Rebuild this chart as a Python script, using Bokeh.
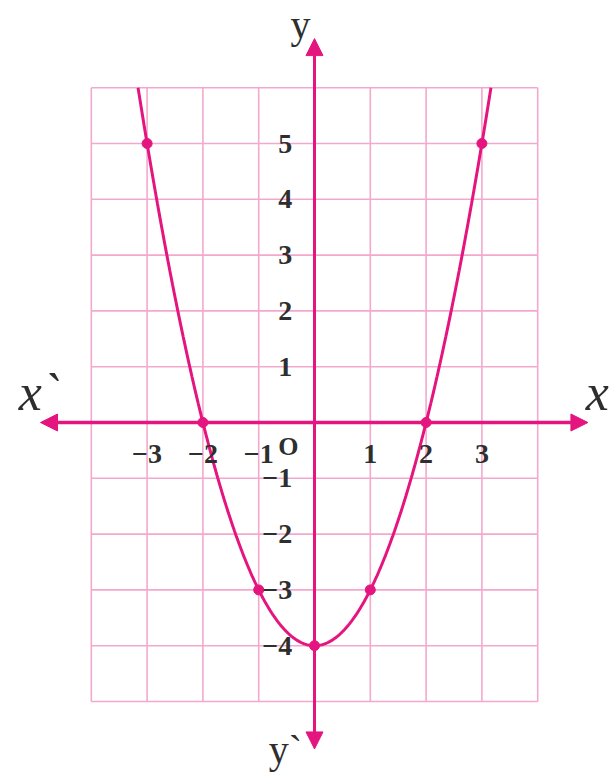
import numpy as np
from bokeh.plotting import figure
from bokeh.models import Arrow, NormalHead
from bokeh.core.properties import value
from bokeh.embed import file_html
from bokeh.resources import INLINE

# Plotted points of y = x^2 - 4
x_pts = [-3, -2, -1, 0, 1, 2, 3]
y_pts = [5, 0, -3, -4, -3, 0, 5]

# Tick labels
x_ticks = [-3, -2, -1, 1, 2, 3]
x_tick_labels = ["−3", "−2", "−1", "1", "2", "3"]
y_ticks = [5, 4, 3, 2, 1, -1, -2, -3, -4]
y_tick_labels = ["5", "4", "3", "2", "1", "−1", "−2", "−3", "−4"]

# Graph-paper extent
grid_x = list(range(-4, 5))
grid_y = list(range(-5, 7))

PINK = "#e5157f"
GRID = "#f3a9cd"
INK = "#2e2e2e"
SERIF = value("Liberation Serif")

W, H = 611, 776
unit = 55.8
ox, oy = 314, 422

p = figure(width=W, height=H, output_backend="svg", toolbar_location=None,
           x_range=(-ox / unit, (W - ox) / unit),
           y_range=((oy - H) / unit, oy / unit),
           min_border=0)
p.axis.visible = False
p.grid.visible = False
p.outline_line_color = None
p.background_fill_color = "white"
p.border_fill_color = "white"

# graph paper
gx0, gx1 = grid_x[0], grid_x[-1]
gy0, gy1 = grid_y[0], grid_y[-1]
p.segment(x0=grid_x, y0=[gy0] * len(grid_x), x1=grid_x, y1=[gy1] * len(grid_x),
          line_color=GRID, line_width=1.6)
p.segment(x0=[gx0] * len(grid_y), y0=grid_y, x1=[gx1] * len(grid_y), y1=grid_y,
          line_color=GRID, line_width=1.6)

# axes with arrowheads
def head():
    return NormalHead(size=17, fill_color=PINK, line_color=PINK)

p.add_layout(Arrow(x_start=0, y_start=-5.85, x_end=0, y_end=6.88,
                   line_color=PINK, line_width=3, start=head(), end=head()))
p.add_layout(Arrow(x_start=-4.91, y_start=0, x_end=4.9, y_end=0,
                   line_color=PINK, line_width=3.5, start=head(), end=head()))

# smooth curve through the plotted points, continued to the top of the paper
coef = np.polyfit(x_pts, y_pts, 2)
roots = np.roots([coef[0], coef[1], coef[2] - gy1]).real
xs = np.linspace(roots.min(), roots.max(), 400)
ys = np.polyval(coef, xs)
p.line(xs, ys, line_color=PINK, line_width=3)
p.scatter(x_pts, y_pts, size=10, fill_color=PINK, line_color=PINK)

# tick labels
p.text(x=x_ticks, y=[-0.57] * len(x_ticks), text=x_tick_labels,
       text_font=SERIF, text_font_size="28px", text_font_style="bold",
       text_color=INK, text_align="center", text_baseline="middle")
p.text(x=[-0.4] * len(y_ticks), y=y_ticks, text=y_tick_labels,
       text_font=SERIF, text_font_size="28px", text_font_style="bold",
       text_color=INK, text_align="right", text_baseline="middle")
p.text(x=[-0.47], y=[-0.43], text=["O"], text_font=SERIF, text_font_size="26px",
       text_font_style="bold", text_color=INK, text_align="center",
       text_baseline="middle")

# axis names
p.text(x=[-0.25], y=[7.13], text=["y"], text_font=SERIF, text_font_size="40px",
       text_color=INK, text_align="center", text_baseline="middle")
p.text(x=[-0.52], y=[-5.86], text=["y`"], text_font=SERIF, text_font_size="40px",
       text_color=INK, text_align="center", text_baseline="middle")
p.text(x=[-5.3], y=[0.54], text=["x`"], text_font=SERIF, text_font_size="52px",
       text_font_style="italic", text_color=INK, text_align="left",
       text_baseline="middle")
p.text(x=[4.86], y=[0.54], text=["x"], text_font=SERIF, text_font_size="52px",
       text_font_style="italic", text_color=INK, text_align="left",
       text_baseline="middle")

open("out.html", "w").write(file_html(p, INLINE))
